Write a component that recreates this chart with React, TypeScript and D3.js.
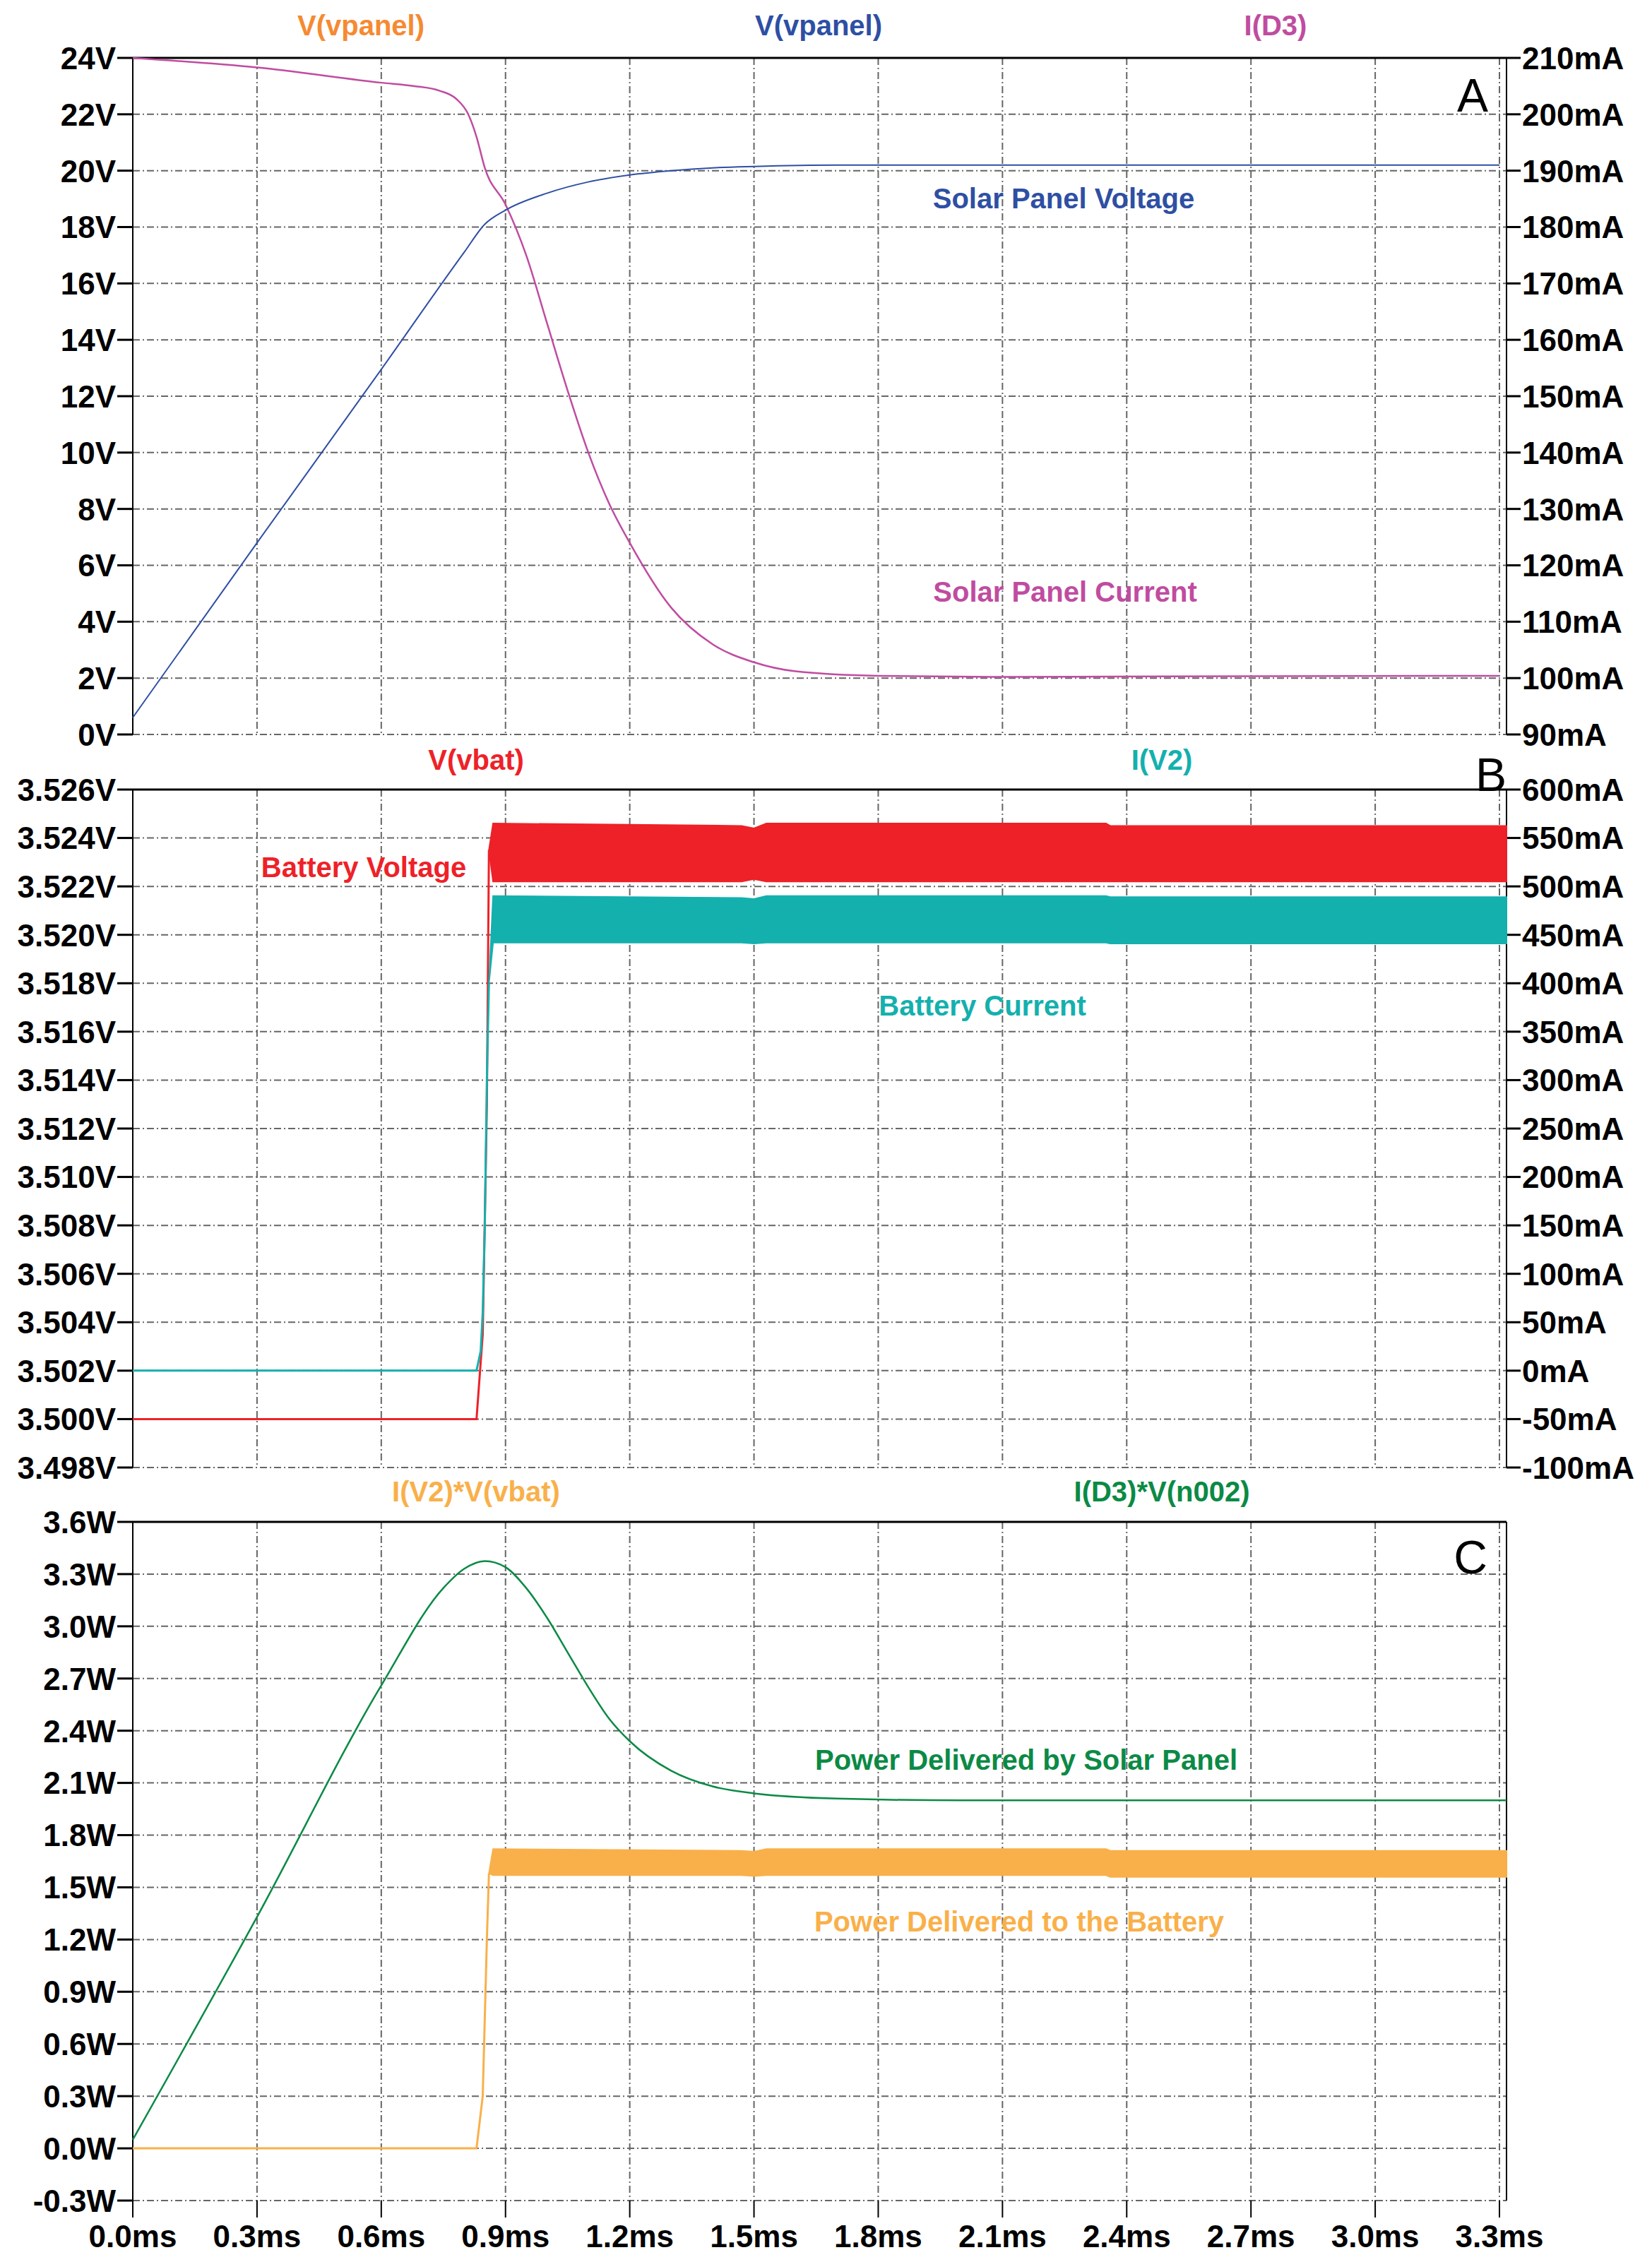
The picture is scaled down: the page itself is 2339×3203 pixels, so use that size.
import * as d3 from 'd3';

// time axis (ms)
const xTicks = [0, 0.3, 0.6, 0.9, 1.2, 1.5, 1.8, 2.1, 2.4, 2.7, 3.0, 3.3];

// Panel A
const panelVoltT = [0, 0.3, 0.6, 0.8, 0.85, 0.9, 1.0, 1.1, 1.2, 1.3, 1.4, 1.5, 1.7, 2.0, 3.3];
const panelVolt = [0.6, 6.8, 12.95, 17.1, 18.1, 18.6, 19.2, 19.6, 19.85, 20.0, 20.1, 20.15, 20.2, 20.2, 20.2];
const panelCurT = [0, 0.3, 0.6, 0.68, 0.74, 0.78, 0.81, 0.83, 0.85, 0.9, 0.95, 1.0, 1.05, 1.1, 1.15, 1.2, 1.3, 1.4, 1.5, 1.6, 1.8, 2.1, 2.5, 3.3];
const panelCur = [210, 208.3, 205.6, 205.0, 204.2, 202.8, 200.0, 196.0, 190.5, 184, 175, 163, 151, 140, 131, 124, 112.5, 106, 102.8, 101.2, 100.4, 100.2, 100.3, 100.4];
const aLeftTicks = [0, 2, 4, 6, 8, 10, 12, 14, 16, 18, 20, 22, 24];
const aRightTicks = [90, 100, 110, 120, 130, 140, 150, 160, 170, 180, 190, 200, 210];

// Panel B
const batVT = [0, 0.83, 0.845, 0.85, 0.855, 0.86];
const batV = [3.5, 3.5, 3.5035, 3.5082, 3.513, 3.5235];
const batVBandT = [0.86, 0.87, 1.47, 1.5, 1.53, 2.35, 2.36, 3.317];
const batVTop = [3.5235, 3.5246, 3.5245, 3.5244, 3.5246, 3.5246, 3.5245, 3.5245];
const batVBot = [3.5235, 3.5222, 3.5222, 3.5223, 3.5222, 3.5222, 3.5222, 3.5222];
const batIT = [0, 0.83, 0.84, 0.845, 0.85, 0.855, 0.86];
const batI = [0, 0, 20, 60, 150, 300, 400];
const batIBandT = [0.86, 0.87, 1.47, 1.5, 1.53, 2.35, 2.36, 3.317];
const batITop = [400, 490, 488, 487, 490, 490, 489, 489];
const batIBot = [400, 442, 442, 441, 442, 442, 441, 441];
const bLeftTicks = [3.498, 3.5, 3.502, 3.504, 3.506, 3.508, 3.51, 3.512, 3.514, 3.516, 3.518, 3.52, 3.522, 3.524, 3.526];
const bRightTicks = [-100, -50, 0, 50, 100, 150, 200, 250, 300, 350, 400, 450, 500, 550, 600];

// Panel C
const solarPT = [0, 0.3, 0.6, 0.75, 0.8, 0.85, 0.9, 0.95, 1.0, 1.05, 1.1, 1.15, 1.2, 1.3, 1.4, 1.5, 1.7, 2.0, 3.317];
const solarP = [0.05, 1.33, 2.66, 3.22, 3.33, 3.375, 3.34, 3.22, 3.05, 2.85, 2.65, 2.47, 2.34, 2.17, 2.08, 2.04, 2.01, 2.0, 2.0];
const batPT = [0, 0.83, 0.845, 0.855, 0.86];
const batP = [0, 0, 0.3, 1.2, 1.58];
const batPBandT = [0.86, 0.87, 1.47, 1.5, 1.53, 2.35, 2.36, 3.317];
const batPTop = [1.58, 1.72, 1.71, 1.705, 1.72, 1.72, 1.71, 1.71];
const batPBot = [1.58, 1.57, 1.57, 1.565, 1.57, 1.57, 1.56, 1.56];
const cLeftTicks = [-0.3, 0, 0.3, 0.6, 0.9, 1.2, 1.5, 1.8, 2.1, 2.4, 2.7, 3.0, 3.3, 3.6];

const W = 2339, H = 3203;
const X0 = 188, X1 = 2133;
const x = d3.scaleLinear().domain([0, 3.3]).range([X0, 2123]);
const FONT = '"Liberation Sans Narrow", "Liberation Sans", Arial, sans-serif';
const TFONT = '"Liberation Sans", Arial, sans-serif';

const yA = d3.scaleLinear().domain([0, 24]).range([1040, 82]);
const yAR = d3.scaleLinear().domain([90, 210]).range([1040, 82]);
const yB = d3.scaleLinear().domain([3.498, 3.526]).range([2078, 1118]);
const yBR = d3.scaleLinear().domain([-100, 600]).range([2078, 1118]);
const yC = d3.scaleLinear().domain([-0.3, 3.6]).range([3116, 2155]);

const zip = (a: number[], b: number[]) => a.map((t, i) => [t, b[i]] as [number, number]);

function Panel({ y, ticks, fmt, right, rfmt, rticks }: {
  y: d3.ScaleLinear<number, number>; ticks: number[]; fmt: (v: number) => string;
  right?: d3.ScaleLinear<number, number>; rticks?: number[]; rfmt?: (v: number) => string;
}) {
  const [yb, yt] = y.range();
  return (
    <g>
      {xTicks.map(t => (
        <line key={'v' + t} x1={x(t)} x2={x(t)} y1={yt} y2={yb} stroke="#666" strokeWidth={2} strokeDasharray="10,4,2,4" />
      ))}
      {ticks.map(t => (
        <g key={'h' + t}>
          <line x1={X0} x2={X1} y1={y(t)} y2={y(t)} stroke="#666" strokeWidth={2} strokeDasharray="10,4,2,4" />
          <line x1={X0 - 22} x2={X0} y1={y(t)} y2={y(t)} stroke="#000" strokeWidth={3} />
          <text x={X0 - 24} y={y(t)} dy="0.36em" textAnchor="end" fontFamily={FONT} fontWeight="bold" fontSize={44}>{fmt(t)}</text>
        </g>
      ))}
      {right && rticks && rfmt && rticks.map(t => (
        <g key={'r' + t}>
          <line x1={X1} x2={X1 + 20} y1={right(t)} y2={right(t)} stroke="#000" strokeWidth={3} />
          <text x={X1 + 22} y={right(t)} dy="0.36em" fontFamily={FONT} fontWeight="bold" fontSize={44}>{rfmt(t)}</text>
        </g>
      ))}
      <line x1={X0} x2={X1} y1={yt} y2={yt} stroke="#000" strokeWidth={3} />
      <line x1={X0} x2={X0} y1={yt} y2={yb} stroke="#000" strokeWidth={2} />
      <line x1={X1} x2={X1} y1={yt} y2={yb} stroke="#000" strokeWidth={2} />
    </g>
  );
}

export default function App() {
  const mk = (s: d3.ScaleLinear<number, number>) =>
    d3.line<[number, number]>().x(d => x(d[0])).y(d => s(d[1])).curve(d3.curveMonotoneX);
  const lineA = mk(yA), lineAR = mk(yAR), lineC = mk(yC);
  const lineB = d3.line<[number, number]>().x(d => x(d[0])).y(d => yB(d[1]));
  const lineBR = d3.line<[number, number]>().x(d => x(d[0])).y(d => yBR(d[1]));
  const lineCL = d3.line<[number, number]>().x(d => x(d[0])).y(d => yC(d[1]));
  const band = (ts: number[], top: number[], bot: number[], s: d3.ScaleLinear<number, number>) =>
    d3.area<number>().x((_, i) => x(ts[i])).y0((_, i) => s(bot[i])).y1((_, i) => s(top[i]))(ts)!;

  const title = (t: string, cx: number, cy: number, c: string) => (
    <text x={cx} y={cy} textAnchor="middle" fontFamily={TFONT} fontWeight="bold" fontSize={40} fill={c}>{t}</text>
  );
  const letter = (t: string, cx: number, cy: number) => (
    <text x={cx} y={cy} textAnchor="middle" fontFamily={TFONT} fontSize={66} fill="#000">{t}</text>
  );

  return (
    <svg width={W} height={H} style={{ position: 'absolute', left: 0, top: 0, background: '#fff' }}>
      <rect width={W} height={H} fill="#fff" />
      {/* Panel A */}
      <Panel y={yA} ticks={aLeftTicks} fmt={v => `${v}V`} right={yAR} rticks={aRightTicks} rfmt={v => `${v}mA`} />
      {title('V(vpanel)', 511, 50, '#f58a32')}
      {title('V(vpanel)', 1159, 50, '#2e4fa3')}
      {title('I(D3)', 1806, 50, '#c04ca0')}
      {letter('A', 2085, 158)}
      <path d={lineAR(zip(panelCurT, panelCur))!} fill="none" stroke="#c04ca0" strokeWidth={2.5} />
      <path d={lineA(zip(panelVoltT, panelVolt))!} fill="none" stroke="#2e4fa3" strokeWidth={2} />
      {title('Solar Panel Voltage', 1506, 295, '#2e4fa3')}
      {title('Solar Panel Current', 1508, 852, '#c04ca0')}

      {/* Panel B */}
      <Panel y={yB} ticks={bLeftTicks} fmt={v => `${v.toFixed(3)}V`} right={yBR} rticks={bRightTicks} rfmt={v => `${v}mA`} />
      {title('V(vbat)', 674, 1090, '#ee2128')}
      {title('I(V2)', 1645, 1090, '#14b0ae')}
      {letter('B', 2111, 1120)}
      <path d={lineB(zip(batVT, batV))!} fill="none" stroke="#ee2128" strokeWidth={3} />
      <path d={band(batVBandT, batVTop, batVBot, yB)} fill="#ee2128" stroke="#ee2128" strokeWidth={2} />
      <path d={lineBR(zip(batIT, batI))!} fill="none" stroke="#14b0ae" strokeWidth={3} />
      <path d={band(batIBandT, batITop, batIBot, yBR)} fill="#14b0ae" stroke="#14b0ae" strokeWidth={2} />
      {title('Battery Voltage', 515, 1242, '#ee2128')}
      {title('Battery Current', 1391, 1438, '#14b0ae')}

      {/* Panel C */}
      <Panel y={yC} ticks={cLeftTicks} fmt={v => `${v.toFixed(1)}W`} />
      {title('I(V2)*V(vbat)', 674, 2126, '#f9b04a')}
      {title('I(D3)*V(n002)', 1645, 2126, '#0b8a45')}
      {letter('C', 2082, 2228)}
      <path d={lineC(zip(solarPT, solarP))!} fill="none" stroke="#0b8a45" strokeWidth={2.5} />
      <path d={lineCL(zip(batPT, batP))!} fill="none" stroke="#f9b04a" strokeWidth={3} />
      <path d={band(batPBandT, batPTop, batPBot, yC)} fill="#f9b04a" stroke="#f9b04a" strokeWidth={2} />
      {title('Power Delivered by Solar Panel', 1453, 2506, '#0b8a45')}
      {title('Power Delivered to the Battery', 1443, 2735, '#f9b04a')}

      {/* x axis */}
      {xTicks.map(t => (
        <g key={'x' + t}>
          <line x1={x(t)} x2={x(t)} y1={3116} y2={3140} stroke="#000" strokeWidth={2} />
          <text x={x(t)} y={3182} textAnchor="middle" fontFamily={FONT} fontWeight="bold" fontSize={44}>{`${t.toFixed(1)}ms`}</text>
        </g>
      ))}
    </svg>
  );
}
